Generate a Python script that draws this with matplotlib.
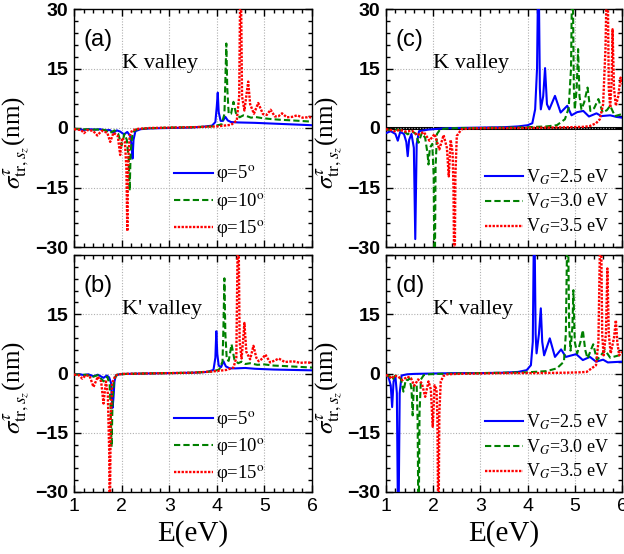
import matplotlib
matplotlib.use("Agg")
import matplotlib.pyplot as plt
from matplotlib.ticker import MultipleLocator

SERIF = "Liberation Serif"
SANS = "Liberation Sans"
BLUE, GREEN, RED = "#0000FF", "#008000", "#FF0000"

plt.rcParams.update({
    "font.family": SANS, "mathtext.fontset": "stix",
    "axes.linewidth": 1.0, "figure.dpi": 100,
})

# ---- panel (a): K valley, angle sweep ----
a_e5 = [1.0, 1.1, 1.2, 1.3, 1.45, 1.55, 1.65, 1.75, 1.83, 1.9, 1.97, 2.05, 2.12, 2.18, 2.21, 2.23,
        2.25, 2.29, 2.4, 2.6, 3.0, 3.4, 3.7, 3.9, 3.97, 4.0, 4.02, 4.04, 4.08, 4.13, 4.18, 4.23,
        4.3, 4.45, 4.8, 5.2, 5.6, 6.0]
a_s5 = [-0.2, -0.3, -0.5, -0.3, -0.4, -0.3, -0.6, -0.5, -1.2, -0.6, -0.9, -1.6, -1.0, -2.0, -4.5, -7.7,
        -3.0, -0.8, -0.3, -0.1, 0.0, 0.1, 0.3, 0.6, 1.5, 5.5, 8.9, 4.0, 1.8, 1.8, 2.8, 1.9,
        1.5, 1.4, 1.3, 1.1, 0.9, 0.7]
a_e10 = [1.0, 1.2, 1.4, 1.55, 1.65, 1.75, 1.85, 1.93, 2.0, 2.06, 2.11, 2.15, 2.17, 2.19, 2.23, 2.3,
         2.5, 3.0, 3.5, 3.9, 4.1, 4.16, 4.18, 4.2, 4.22, 4.25, 4.3, 4.35, 4.4, 4.48, 4.56, 4.63,
         4.72, 4.8, 4.95, 5.1, 5.3, 5.6, 6.0]
a_s10 = [-0.2, -0.3, -0.4, -0.4, -0.5, -1.3, -0.6, -1.5, -4.4, -1.5, -3.0, -8.0, -15.8, -6.0, -1.2, -0.4,
         -0.1, 0.1, 0.2, 0.4, 0.9, 3.5, 12.0, 21.3, 10.0, 3.5, 3.6, 6.6, 3.8, 2.7, 3.2, 3.0,
         2.6, 2.8, 2.5, 2.3, 2.1, 1.9, 1.6]
a_e15 = [1.0, 1.15, 1.21, 1.28, 1.4, 1.49, 1.58, 1.7, 1.76, 1.83, 1.92, 1.97, 2.01, 2.07, 2.1, 2.12,
         2.14, 2.17, 2.22, 2.35, 2.6, 3.0, 3.5, 4.0, 4.3, 4.42, 4.47, 4.5, 4.53, 4.58, 4.63, 4.66,
         4.7, 4.78, 4.87, 4.97, 5.05, 5.13, 5.22, 5.3, 5.37, 5.47, 5.58, 5.69, 5.8, 5.9, 5.94, 6.0]
a_s15 = [-0.3, -0.5, -1.3, -0.5, -0.7, -1.9, -0.7, -1.2, -3.5, -1.2, -2.0, -6.8, -2.5, -3.5, -10.0, -26.0,
         -8.0, -2.0, -0.6, -0.2, 0.0, 0.1, 0.2, 0.4, 0.8, 1.9, 8.0, 45.0, 8.0, 4.4, 9.0, 11.7,
         6.0, 3.6, 6.3, 3.5, 3.3, 4.6, 2.9, 3.0, 3.7, 2.7, 2.8, 3.2, 2.6, 2.7, 2.8, 2.5]

# ---- panel (b): K' valley, angle sweep ----
b_e5 = [1.0, 1.12, 1.21, 1.3, 1.41, 1.5, 1.62, 1.69, 1.74, 1.78, 1.81, 1.83, 1.85, 1.88, 1.95, 2.1,
        2.5, 3.0, 3.5, 3.8, 3.93, 3.97, 3.99, 4.01, 4.04, 4.09, 4.14, 4.19, 4.27, 4.4, 4.6, 4.8,
        5.2, 5.6, 6.0]
b_s5 = [-0.2, -0.2, -0.4, -0.2, -0.7, -0.3, -1.1, -0.5, -1.0, -2.5, -8.7, -6.0, -2.0, -0.5, -0.2, -0.1,
        0.0, 0.1, 0.2, 0.4, 0.9, 4.0, 10.7, 5.0, 2.0, 1.6, 3.1, 1.8, 1.3, 1.3, 1.4, 1.2,
        1.0, 0.9, 0.8]
b_e10 = [1.0, 1.15, 1.25, 1.41, 1.5, 1.62, 1.7, 1.75, 1.77, 1.79, 1.81, 1.84, 1.9, 2.1, 2.5, 3.0,
         3.5, 3.9, 4.05, 4.12, 4.14, 4.16, 4.18, 4.21, 4.25, 4.31, 4.37, 4.45, 4.52, 4.6, 4.7, 4.85,
         5.0, 5.2, 5.4, 5.7, 6.0]
b_s10 = [-0.2, -0.3, -0.3, -0.8, -0.4, -2.0, -0.8, -3.0, -9.0, -18.6, -7.0, -1.5, -0.3, -0.1, 0.0, 0.1,
         0.2, 0.5, 1.0, 3.0, 12.0, 24.1, 10.0, 3.5, 3.2, 7.4, 3.5, 2.6, 3.0, 2.4, 2.6, 2.2,
         2.3, 2.0, 1.9, 1.7, 1.5]
b_e15 = [1.0, 1.1, 1.175, 1.25, 1.33, 1.41, 1.5, 1.57, 1.62, 1.67, 1.71, 1.74, 1.75, 1.77, 1.8, 1.87,
         2.0, 2.5, 3.0, 3.5, 3.9, 4.2, 4.35, 4.41, 4.45, 4.48, 4.52, 4.55, 4.58, 4.62, 4.7, 4.77,
         4.83, 4.88, 4.96, 5.02, 5.12, 5.22, 5.3, 5.43, 5.6, 5.75, 5.88, 6.0]
b_s15 = [-0.3, -0.4, -1.3, -0.4, -0.7, -3.4, -0.8, -2.0, -7.6, -2.0, -5.0, -20.0, -45.0, -12.0, -2.5, -0.5,
         -0.1, 0.0, 0.1, 0.2, 0.5, 0.9, 1.5, 4.0, 45.0, 8.0, 3.8, 8.0, 12.8, 5.5, 3.6, 7.0,
         4.0, 3.1, 3.8, 4.8, 2.8, 3.3, 3.8, 2.9, 3.1, 2.7, 2.8, 2.7]

# ---- panel (c): K valley, gate voltage sweep ----
c_e25 = [1.0, 1.1, 1.2, 1.25, 1.3, 1.38, 1.43, 1.46, 1.49, 1.54, 1.59, 1.62, 1.65, 1.7, 1.8, 1.9,
         2.0, 2.2, 2.5, 3.0, 3.5, 3.8, 4.0, 4.1, 4.16, 4.2, 4.23, 4.26, 4.28, 4.33, 4.37, 4.41,
         4.46, 4.58, 4.7, 4.84, 4.93, 5.05, 5.18, 5.3, 5.46, 5.56, 5.75, 5.88, 6.0]
c_s25 = [-1.3, -0.8, -1.5, -3.2, -1.0, -1.5, -3.5, -7.1, -3.0, -1.5, -5.0, -28.0, -4.0, -0.8, -0.6, -0.4,
         -0.3, -0.1, 0.0, 0.1, 0.2, 0.4, 0.7, 1.2, 4.7, 15.0, 45.0, 10.0, 4.7, 8.0, 15.1, 6.0,
         4.7, 8.1, 3.9, 5.6, 3.2, 4.0, 4.3, 2.9, 3.7, 3.0, 3.2, 2.8, 2.6]
c_e30 = [1.0, 1.2, 1.35, 1.46, 1.55, 1.63, 1.69, 1.76, 1.83, 1.88, 1.9, 1.93, 1.98, 2.01, 2.03, 2.05,
         2.08, 2.15, 2.3, 2.6, 3.0, 3.5, 4.0, 4.4, 4.62, 4.79, 4.87, 4.92, 4.95, 4.98, 5.0, 5.04,
         5.07, 5.1, 5.14, 5.2, 5.27, 5.33, 5.41, 5.5, 5.59, 5.68, 5.75, 5.85, 6.0]
c_s30 = [-0.5, -0.4, -0.6, -1.6, -0.8, -1.5, -3.7, -1.2, -2.5, -6.5, -9.2, -5.0, -4.0, -12.0, -45.0, -10.0,
         -1.5, -0.3, -0.1, 0.0, 0.0, 0.1, 0.2, 0.4, 0.7, 2.2, 5.0, 15.0, 45.0, 10.0, 4.7, 10.0,
         19.9, 8.0, 4.7, 6.5, 10.2, 4.3, 5.0, 7.3, 3.9, 4.5, 5.6, 3.0, 3.5]
c_e35 = [1.0, 1.1, 1.18, 1.3, 1.42, 1.55, 1.67, 1.8, 1.92, 2.03, 2.13, 2.22, 2.29, 2.33, 2.37, 2.41,
         2.43, 2.45, 2.47, 2.5, 2.6, 2.8, 3.2, 3.8, 4.4, 4.9, 5.2, 5.32, 5.45, 5.53, 5.6, 5.65,
         5.69, 5.72, 5.75, 5.78, 5.8, 5.83, 5.87, 5.92, 5.97, 6.0]
c_s35 = [-0.3, -0.5, -0.8, -0.5, -0.9, -0.7, -1.8, -1.0, -3.2, -1.5, -5.4, -1.8, -5.0, -12.2, -3.0, -6.0,
         -15.0, -45.0, -12.0, -2.0, -0.3, -0.1, 0.0, 0.0, 0.1, 0.2, 0.3, 0.5, 1.2, 2.2, 6.0, 20.0,
         45.0, 10.0, 5.1, 12.0, 24.9, 10.0, 5.6, 8.0, 12.7, 11.0]

# ---- panel (d): K' valley, gate voltage sweep ----
d_e25 = [1.0, 1.05, 1.1, 1.13, 1.16, 1.2, 1.23, 1.26, 1.29, 1.33, 1.45, 1.6, 2.0, 2.5, 3.0, 3.5,
         3.8, 3.98, 4.07, 4.11, 4.14, 4.17, 4.19, 4.24, 4.28, 4.31, 4.35, 4.47, 4.58, 4.71, 4.81, 5.03,
         5.17, 5.32, 5.45, 5.6, 5.7, 6.0]
d_s25 = [-0.5, -0.8, -3.0, -8.5, -2.0, -0.8, -5.0, -45.0, -5.0, -0.5, -0.2, -0.1, 0.0, 0.1, 0.1, 0.2,
         0.4, 0.85, 2.1, 8.0, 45.0, 10.0, 5.1, 10.0, 16.5, 8.0, 4.6, 8.9, 4.2, 6.1, 4.2, 4.9,
         3.4, 4.2, 3.0, 3.5, 2.8, 3.0]
d_e30 = [1.0, 1.08, 1.13, 1.19, 1.25, 1.32, 1.37, 1.42, 1.46, 1.5, 1.54, 1.565, 1.59, 1.65, 1.67, 1.69,
         1.71, 1.74, 1.8, 1.9, 2.1, 2.5, 3.0, 3.5, 4.0, 4.4, 4.62, 4.77, 4.81, 4.85, 4.88, 4.91,
         4.95, 4.97, 5.0, 5.05, 5.12, 5.17, 5.22, 5.27, 5.39, 5.47, 5.64, 5.75, 6.0]
d_s30 = [-0.5, -0.7, -1.7, -0.6, -0.5, -1.5, -4.6, -1.5, -1.7, -1.2, -4.0, -10.6, -3.0, -3.0, -12.0, -45.0,
         -10.0, -1.5, -0.4, -0.2, -0.1, 0.0, 0.1, 0.2, 0.3, 0.6, 1.3, 3.0, 10.0, 45.0, 12.0, 5.8,
         12.0, 21.1, 8.0, 5.1, 8.0, 11.0, 6.0, 3.8, 7.4, 3.4, 5.9, 4.0, 4.8]
d_e35 = [1.0, 1.06, 1.11, 1.17, 1.25, 1.35, 1.45, 1.53, 1.6, 1.68, 1.76, 1.83, 1.9, 1.95, 1.99, 2.03,
         2.07, 2.09, 2.11, 2.13, 2.16, 2.22, 2.3, 2.5, 3.0, 3.5, 4.2, 4.8, 5.1, 5.25, 5.45, 5.5,
         5.55, 5.58, 5.61, 5.66, 5.69, 5.72, 5.76, 5.83, 5.87, 5.9, 5.94, 6.0]
d_s35 = [-0.4, -0.6, -1.3, -0.6, -0.7, -1.7, -0.8, -1.2, -3.1, -1.5, -2.5, -5.9, -2.0, -4.0, -13.5, -3.0,
         -4.0, -12.0, -45.0, -10.0, -2.0, -0.6, -0.2, -0.1, 0.0, 0.1, 0.1, 0.2, 0.3, 0.4, 2.1, 8.0,
         45.0, 10.0, 4.6, 10.0, 26.6, 10.0, 5.1, 9.0, 13.5, 8.0, 4.6, 5.5]

angle_labels = [r"φ=5$^\mathrm{o}$", r"φ=10$^\mathrm{o}$", r"φ=15$^\mathrm{o}$"]
gate_labels = [r"V$_G$=2.5 eV", r"V$_G$=3.0 eV", r"V$_G$=3.5 eV"]
YLABEL = r"$\sigma^{\tau}_{\mathrm{tr},s_z}$(nm)"

STYLES = [dict(color=BLUE, lw=1.5, ls="-"),
          dict(color=GREEN, lw=1.5, ls=(0, (3, 1.5))),
          dict(color=RED, lw=1.7, ls=(0, (1, 0.6)))]


def panel(rect, curves, labels, tag, valley, bottom=False, zero_line=False, leg_size=13.5):
    ax = fig.add_axes(rect)
    if zero_line:
        ax.axhline(0, color="black", lw=2.2, zorder=1.5)
    for (e, s), lab, st in zip(curves, labels, STYLES):
        ax.plot(e, s, label=lab, zorder=3, **st)
    ax.set_xlim(1, 6)
    ax.set_ylim(-30, 30)
    ax.xaxis.set_major_locator(MultipleLocator(1))
    ax.xaxis.set_minor_locator(MultipleLocator(0.2))
    ax.set_yticks([-30, -15, 0, 15, 30])
    ax.yaxis.set_minor_locator(MultipleLocator(3))
    ax.grid(True, which="major", color="#B0B0B0", ls=(0, (1, 1.5)), lw=0.8)
    ax.tick_params(which="both", direction="in", top=True, right=True, width=1)
    ax.tick_params(which="major", length=5, labelsize=14, pad=4)
    ax.tick_params(which="minor", length=3)
    for t in ax.get_yticklabels():
        t.set_fontweight("bold")
    if bottom:
        ax.set_xlabel("E(eV)", fontfamily=SERIF, fontsize=21, labelpad=4)
        ax.get_yticklabels()[-1].set_visible(False)  # hidden behind the "-30" above
    else:
        ax.tick_params(labelbottom=False)
    ax.set_ylabel(YLABEL, fontfamily=SERIF, fontsize=18)
    ax.yaxis.set_label_coords(-0.175, 0.44)
    ax.text(0.04, 0.87, tag, transform=ax.transAxes, fontsize=17, va="center")
    ax.text(0.2, 0.77, valley, transform=ax.transAxes, fontfamily=SERIF,
            fontsize=16, va="center")
    ax.legend(loc="center left", bbox_to_anchor=(0.42, 0.19), frameon=False,
              prop={"family": SERIF, "size": leg_size}, handlelength=2.1,
              handletextpad=0.15, labelspacing=0.3, borderpad=0, borderaxespad=0)
    return ax


fig = plt.figure(figsize=(6.24, 5.54), dpi=100)
W, H = 624, 554
rect_a = [74 / W, 1 - 247 / H, 238 / W, 238 / H]
rect_b = [74 / W, 1 - 492 / H, 238 / W, 237 / H]
rect_c = [386 / W, 1 - 247 / H, 236 / W, 238 / H]
rect_d = [386 / W, 1 - 492 / H, 236 / W, 237 / H]

panel(rect_b, [(b_e5, b_s5), (b_e10, b_s10), (b_e15, b_s15)], angle_labels, "(b)", "K' valley", bottom=True)
panel(rect_d, [(d_e25, d_s25), (d_e30, d_s30), (d_e35, d_s35)], gate_labels, "(d)", "K' valley",
      bottom=True, leg_size=13)
panel(rect_a, [(a_e5, a_s5), (a_e10, a_s10), (a_e15, a_s15)], angle_labels, "(a)", "K valley")
panel(rect_c, [(c_e25, c_s25), (c_e30, c_s30), (c_e35, c_s35)], gate_labels, "(c)", "K valley",
      zero_line=True, leg_size=13)

fig.savefig("out.png", dpi=100)
